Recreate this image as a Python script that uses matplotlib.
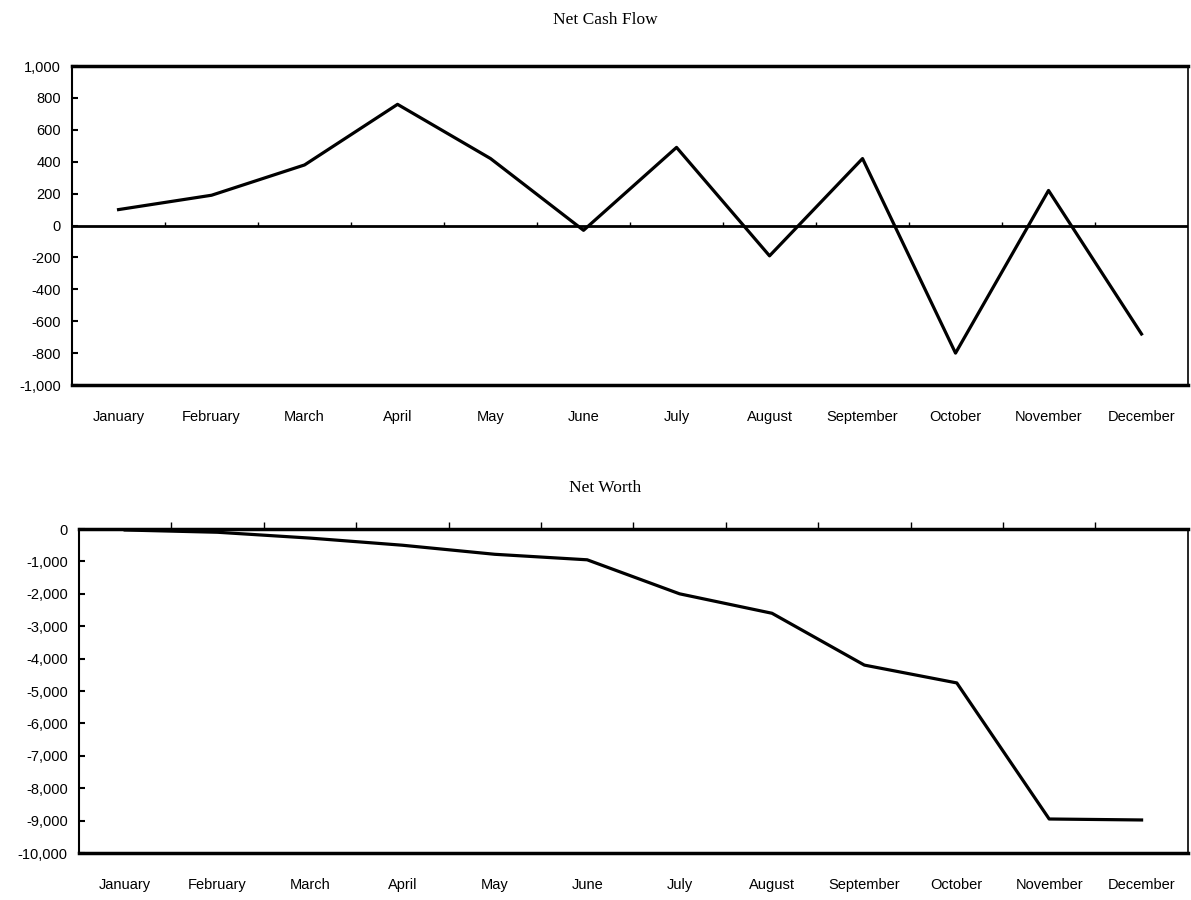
import matplotlib
matplotlib.use("Agg")
import matplotlib.pyplot as plt
import numpy as np

months = ["January", "February", "March", "April", "May", "June",
          "July", "August", "September", "October", "November", "December"]
net_cash_flow = [100, 190, 380, 760, 420, -30, 490, -190, 420, -800, 220, -680]
net_worth = [-30, -100, -280, -500, -780, -950, -2000, -2600, -4200, -4750, -8950, -8980]

cash_ticks = [1000, 800, 600, 400, 200, 0, -200, -400, -600, -800, -1000]
worth_ticks = [0, -1000, -2000, -3000, -4000, -5000, -6000, -7000, -8000, -9000, -10000]

plt.rcParams['font.family'] = ['Liberation Sans', 'DejaVu Sans']

x = np.arange(len(months)) + 0.5
bounds = np.arange(1, len(months))

fig = plt.figure(figsize=(11.91, 9), dpi=100)

def style(ax, ticks):
    ax.set_xlim(0, len(months))
    ax.set_ylim(ticks[-1], ticks[0])
    ax.set_yticks(ticks)
    ax.set_yticklabels([f"{t:,}" for t in ticks])
    ax.set_xticks(x)
    ax.set_xticklabels(months)
    ax.tick_params(axis='x', length=0, pad=18, labelsize=10.5)
    ax.tick_params(axis='y', direction='in', length=4, width=1.5, labelsize=10.5, pad=8)
    ax.spines['top'].set_linewidth(2.5)
    ax.spines['bottom'].set_linewidth(2.5)
    ax.spines['left'].set_linewidth(1.5)
    ax.spines['right'].set_linewidth(1.2)

# --- Net Cash Flow
ax1 = fig.add_axes([0.0605, 0.5722, 0.937, 0.3544])
style(ax1, cash_ticks)
ax1.axhline(0, color='black', lw=2)
ax1.vlines(bounds, 0, 25, color='black', lw=1)
ax1.plot(x, net_cash_flow, color='black', lw=2.3)
fig.text(0.508, 0.978, "Net Cash Flow", ha='center', va='center',
         family='Liberation Serif', fontsize=12.5)

# --- Net Worth
ax2 = fig.add_axes([0.0663, 0.0522, 0.931, 0.36])
style(ax2, worth_ticks)
ax2.set_xticks(bounds, minor=True)
ax2.tick_params(axis='x', which='minor', top=True, bottom=False,
                direction='out', length=5, width=1)
ax2.plot(x, net_worth, color='black', lw=2.3)
fig.text(0.508, 0.458, "Net Worth", ha='center', va='center',
         family='Liberation Serif', fontsize=12.5)

fig.savefig("out.png", dpi=100)
